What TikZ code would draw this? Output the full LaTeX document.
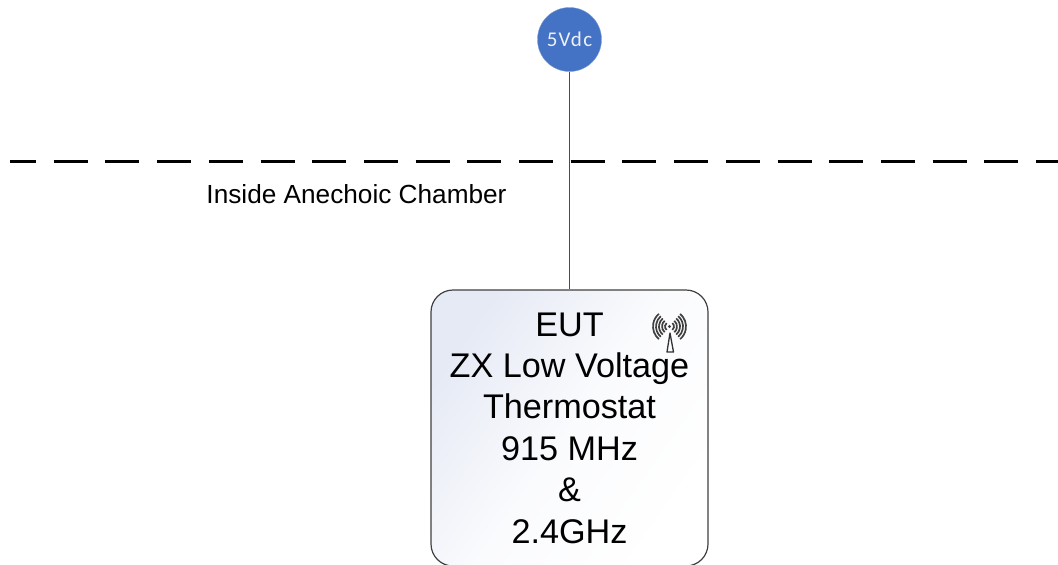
\documentclass[tikz,border=0pt]{standalone}
\usepackage{fontspec}
\usetikzlibrary{calc}
\setmainfont{Liberation Sans}
\newfontfamily\labelfont[LetterSpace=6]{Carlito}
\definecolor{supplyblue}{HTML}{4472C4}
\definecolor{boxtint}{HTML}{E6EAF5}
\tikzset{
    supply/.style={draw=supplyblue!70!white, circle, fill=supplyblue, text=white!90!supplyblue, minimum size=64pt, inner sep=0pt, font=\labelfont\fontsize{21}{24}\selectfont},
    eutbox/.style={draw=black!75, line width=1.2pt, rounded corners=22pt, left color=boxtint, right color=white, middle color=white!80!boxtint, shading angle=55, minimum width=277pt, minimum height=276pt, align=center, inner sep=0pt, font=\fontsize{34.2}{41.4}\selectfont},
    wire/.style={draw=black!70, line width=1.5pt},
    boundary/.style={line width=3.8pt, dash pattern=on 34pt off 17.7pt}
}
\begin{document}
\begin{tikzpicture}[x=1pt, y=-1pt]
    \useasboundingbox (0,0) rectangle (1058,565);

    \coordinate (left) at (10,161.5);
    \coordinate (right) at (1058,161.5);
    \draw[boundary, dash phase=8pt] (left) -- (right);

    \node[supply] (power) at (569.5,39.5) {5Vdc};
    \node[eutbox] (eut) at (569.5,428) {EUT\\ZX Low Voltage\\Thermostat\\915 MHz\\\&\\2.4GHz};
    \draw[wire] (power) -- (eut);

    \node[font=\fontsize{26.2}{30}\selectfont] (chamber) at (356.5,194) {Inside Anechoic Chamber};

    % antenna
    \coordinate (ant) at (669.5,326.5);
    \fill[black!75] (ant) circle (1.6pt);
    \foreach \r in {4.5,7.5,10.5,13.5,16.5} {
        \draw[black!75, line width=1.7pt] ($(ant)+(-50:\r)$) arc[start angle=-50, end angle=50, radius=\r];
        \draw[black!75, line width=1.7pt] ($(ant)+(130:\r)$) arc[start angle=130, end angle=230, radius=\r];
    }
    \draw[black!80, line width=1.3pt, line join=round] (670,333) -- (667,352) -- (673.5,352) -- cycle;
\end{tikzpicture}
\end{document}
